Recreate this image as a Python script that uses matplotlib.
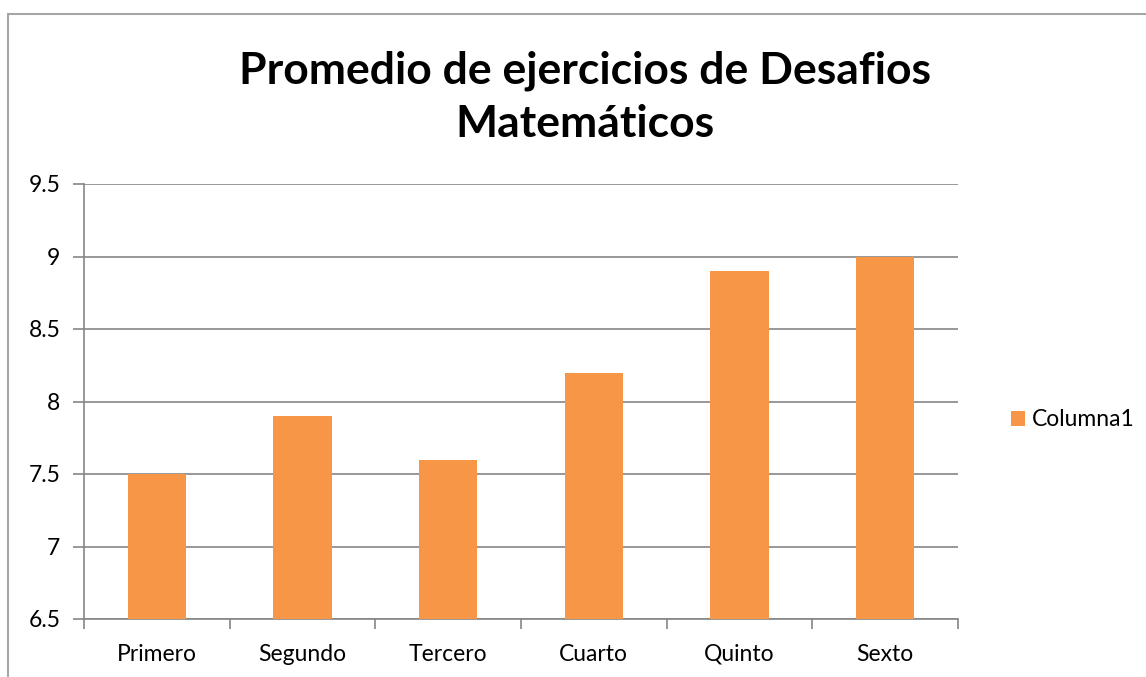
import matplotlib.pyplot as plt
from matplotlib.patches import Rectangle

categories = ['Primero', 'Segundo', 'Tercero', 'Cuarto', 'Quinto', 'Sexto']
values = [7.5, 7.9, 7.6, 8.2, 8.9, 9.0]
yticks = [6.5, 7, 7.5, 8, 8.5, 9, 9.5]
ytick_labels = ['6.5', '7', '7.5', '8', '8.5', '9', '9.5']
series_name = 'Columna1'
title = 'Promedio de ejercicios de Desafios\nMatemáticos'

plt.rcParams['font.family'] = ['Lato', 'DejaVu Sans']

W, H = 1146, 677
fig = plt.figure(figsize=(W / 100, H / 100), dpi=100)

# chart border (cropped on right and bottom)
fig.patches.append(Rectangle((7.5 / W, -0.1), 1.2, 1 - 13.5 / H + 0.1,
                             transform=fig.transFigure, fill=False,
                             edgecolor='#a6a6a6', linewidth=1.5))

ax = fig.add_axes([84 / W, 1 - 619 / H, (958 - 84) / W, (619 - 184) / H])

x = list(range(len(categories)))
ax.bar(x, values, width=0.4, color='#F79646', label=series_name, zorder=3)
ax.set_ylim(6.5, 9.5)
ax.set_xlim(-0.5, len(categories) - 0.5)

ax.set_yticks(yticks)
ax.set_yticklabels(ytick_labels)
ax.grid(axis='y', color='#868686', linewidth=1.2, zorder=0)
ax.set_xticks(x)
ax.set_xticklabels(categories)
ax.tick_params(axis='x', length=0, labelsize=16.5, pad=18)
ax.set_xticks([i - 0.5 for i in range(len(categories) + 1)], minor=True)
ax.tick_params(axis='x', which='minor', length=7, color='#868686', width=1.2)
ax.tick_params(axis='y', length=8, color='#868686', width=1.2, labelsize=16.5, pad=9)

for s in ['top', 'right']:
    ax.spines[s].set_visible(False)
for s in ['left', 'bottom']:
    ax.spines[s].set_color('#868686')
    ax.spines[s].set_linewidth(1.2)

fig.text(585 / W, 1 - 97 / H, title, ha='center', va='center',
         fontsize=32, fontweight='bold', linespacing=1.4)

leg = fig.legend(loc='center left', bbox_to_anchor=(1000 / W, 1 - 420 / H),
                 frameon=False, fontsize=16.5, handlelength=0.6, handleheight=0.6,
                 handletextpad=0.3, borderpad=0)

fig.savefig('out.png', dpi=100)
